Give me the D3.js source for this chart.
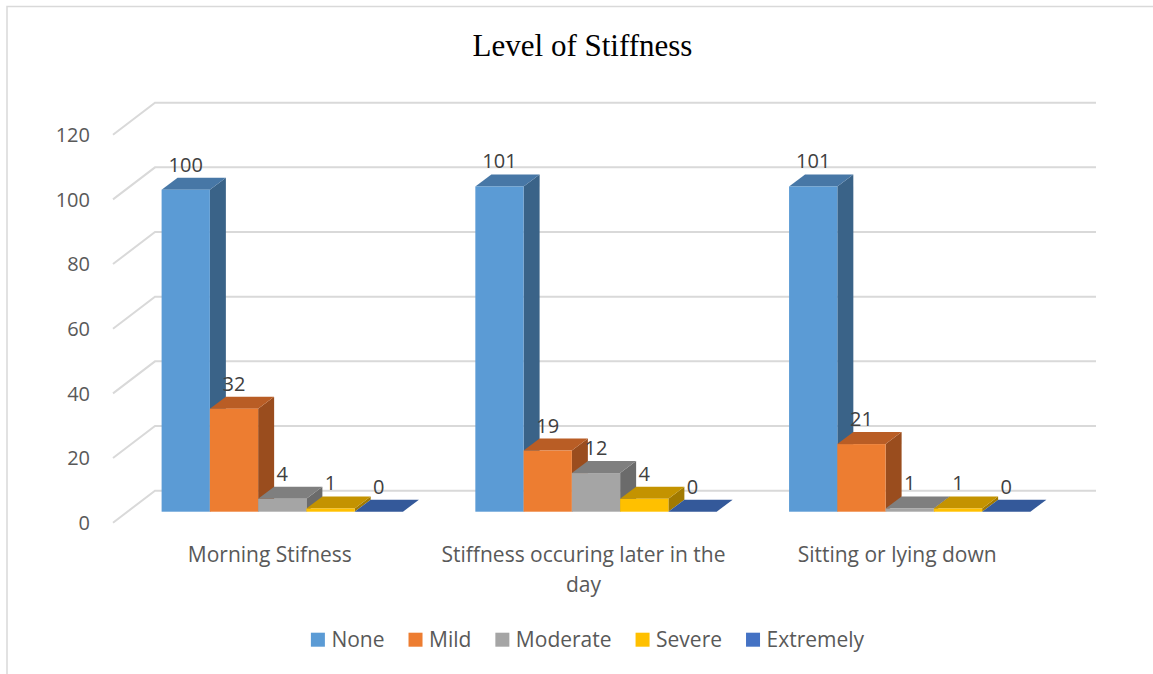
<!DOCTYPE html>
<html>
<head>
<meta charset="utf-8">
<script src="https://cdn.jsdelivr.net/npm/d3@7"></script>
<style>
  html, body { margin: 0; padding: 0; background: #fff; }
  svg { display: block; }
</style>
</head>
<body>
<svg id="chart" width="1153" height="674"></svg>
<script>
// ---- data ----
const categories = ["Morning Stifness", "Stiffness occuring later in the day", "Sitting or lying down"];
const seriesNames = ["None", "Mild", "Moderate", "Severe", "Extremely"];
const noneValues = [100, 101, 101];
const mildValues = [32, 19, 21];
const moderateValues = [4, 12, 1];
const severeValues = [1, 4, 1];
const extremelyValues = [0, 0, 0];
const yTicks = [0, 20, 40, 60, 80, 100, 120];
const chartTitle = "Level of Stiffness";

const seriesValues = [noneValues, mildValues, moderateValues, severeValues, extremelyValues];

// face shades for each series: front, top, side
const frontColors = ["#5B9BD5", "#ED7D31", "#A5A5A5", "#FFC000", "#4472C4"];
const topColors   = ["#4777A6", "#B95D25", "#7F7F7F", "#C49300", "#34599A"];
const sideColors  = ["#3A6388", "#9A4D1E", "#6B6B6B", "#A27A00", "#2B4B80"];

const svg = d3.select("#chart");
const font = "'Open Sans', 'Noto Sans', sans-serif";

// ---- 3D layout ----
const floorDepth = { dx: 42, dy: -32 };     // front edge -> back wall
const barDepth = { dx: 16, dy: -12 };       // thickness of each column
const floorFrontX = [113, 1054];
const floorFrontY0 = 522.7;

// back wall value scale
const yWall = d3.scaleLinear().domain([0, 120]).range([floorFrontY0 + floorDepth.dy, 102.7]);
// value scale in the plane of the column fronts
const yBar = d3.scaleLinear().domain([0, 120]).range([511.7, 125.3]);

// category positions in the column plane
const xCat = d3.scaleBand().domain(categories).range([125.4, 1066.6])
  .paddingInner(0.2308).paddingOuter(0.1154);
const xSeries = d3.scaleBand().domain(seriesNames).range([0, xCat.bandwidth()]);
// category label positions along the floor front edge
const xLabel = d3.scaleBand().domain(categories).range(floorFrontX);

// ---- outer frame ----
svg.append("rect")
  .attr("x", 7).attr("y", 6.5).attr("width", 1200).attr("height", 700)
  .attr("fill", "none").attr("stroke", "#D9D9D9").attr("stroke-width", 1.5);

// ---- title ----
svg.append("text")
  .attr("x", 582.5).attr("y", 56)
  .attr("text-anchor", "middle")
  .attr("font-family", "'Liberation Serif', 'Times New Roman', serif")
  .attr("font-size", 31)
  .attr("fill", "#000")
  .text(chartTitle);

// ---- gridlines: left floor diagonal + back wall line ----
const wallRight = floorFrontX[1] + floorDepth.dx;
const grid = svg.append("g");
grid.selectAll("polyline").data(yTicks).join("polyline")
  .attr("points", d => {
    const yb = yWall(d);
    return [
      [floorFrontX[0], yb - floorDepth.dy],
      [floorFrontX[0] + floorDepth.dx, yb],
      [wallRight, yb]
    ].map(p => p.join(",")).join(" ");
  })
  .attr("fill", "none").attr("stroke", "#D9D9D9").attr("stroke-width", 2);

// tick labels
svg.append("g").selectAll("text").data(yTicks).join("text")
  .attr("x", 90).attr("y", d => yWall(d) - floorDepth.dy)
  .attr("dy", "0.36em")
  .attr("text-anchor", "end")
  .attr("font-family", font).attr("font-size", 20)
  .attr("fill", "#595959")
  .text(d => d);

// ---- columns ----
const bars = [];
categories.forEach((c, ci) => {
  seriesNames.forEach((s, si) => {
    bars.push({ cat: c, series: s, si, value: seriesValues[si][ci] });
  });
});

const pts = arr => arr.map(p => p.join(",")).join(" ");
const barG = svg.append("g");
bars.forEach(b => {
  const x0 = xCat(b.cat) + xSeries(b.series);
  const x1 = x0 + xSeries.bandwidth();
  const yt = yBar(b.value);
  const yb = yBar(0);
  const { dx, dy } = barDepth;
  const g = barG.append("g");
  // right side face
  g.append("polygon")
    .attr("points", pts([[x1, yt], [x1 + dx, yt + dy], [x1 + dx, yb + dy], [x1, yb]]))
    .attr("fill", sideColors[b.si]);
  // top face
  g.append("polygon")
    .attr("points", pts([[x0, yt], [x1, yt], [x1 + dx, yt + dy], [x0 + dx, yt + dy]]))
    .attr("fill", topColors[b.si]);
  // front face
  if (yb - yt > 0) {
    g.append("rect")
      .attr("x", x0).attr("y", yt)
      .attr("width", x1 - x0).attr("height", yb - yt)
      .attr("fill", frontColors[b.si]);
  }
});

// value labels
svg.append("g").selectAll("text").data(bars).join("text")
  .attr("x", d => xCat(d.cat) + xSeries(d.series) + xSeries.bandwidth() / 2)
  .attr("y", d => yBar(d.value) + barDepth.dy - 6)
  .attr("text-anchor", "middle")
  .attr("font-family", font).attr("font-size", 20)
  .attr("fill", "#404040")
  .text(d => d.value);

// ---- category labels (wrapped to the band width) ----
const catG = svg.append("g");
categories.forEach(c => {
  const t = catG.append("text")
    .attr("text-anchor", "middle")
    .attr("font-family", font).attr("font-size", 21)
    .attr("fill", "#595959");
  const words = c.split(" ");
  const maxW = xLabel.step() - 20;
  let lines = [];
  let line = [];
  const probe = t.append("tspan");
  words.forEach(w => {
    const trial = line.concat([w]).join(" ");
    probe.text(trial);
    if (probe.node().getComputedTextLength() > maxW && line.length) {
      lines.push(line.join(" "));
      line = [w];
    } else {
      line.push(w);
    }
  });
  lines.push(line.join(" "));
  probe.remove();
  const cx = xLabel(c) + xLabel.bandwidth() / 2;
  lines.forEach((l, i) => {
    t.append("tspan").attr("x", cx).attr("y", 561.7 + i * 30).text(l);
  });
});

// ---- legend ----
const legend = svg.append("g");
const items = seriesNames.map((s, i) => {
  const g = legend.append("g");
  g.append("rect").attr("width", 14).attr("height", 14).attr("y", 632.7)
    .attr("fill", frontColors[i]);
  const t = g.append("text").attr("x", 20.5).attr("y", 646.5)
    .attr("font-family", font).attr("font-size", 21)
    .attr("fill", "#595959").text(s);
  return { g, w: 20.5 + t.node().getComputedTextLength() };
});
const gap = 24;
const total = d3.sum(items, d => d.w) + gap * (items.length - 1);
let cursor = 587.5 - total / 2;
items.forEach(it => {
  it.g.attr("transform", `translate(${cursor},0)`);
  cursor += it.w + gap;
});
</script>
</body>
</html>
